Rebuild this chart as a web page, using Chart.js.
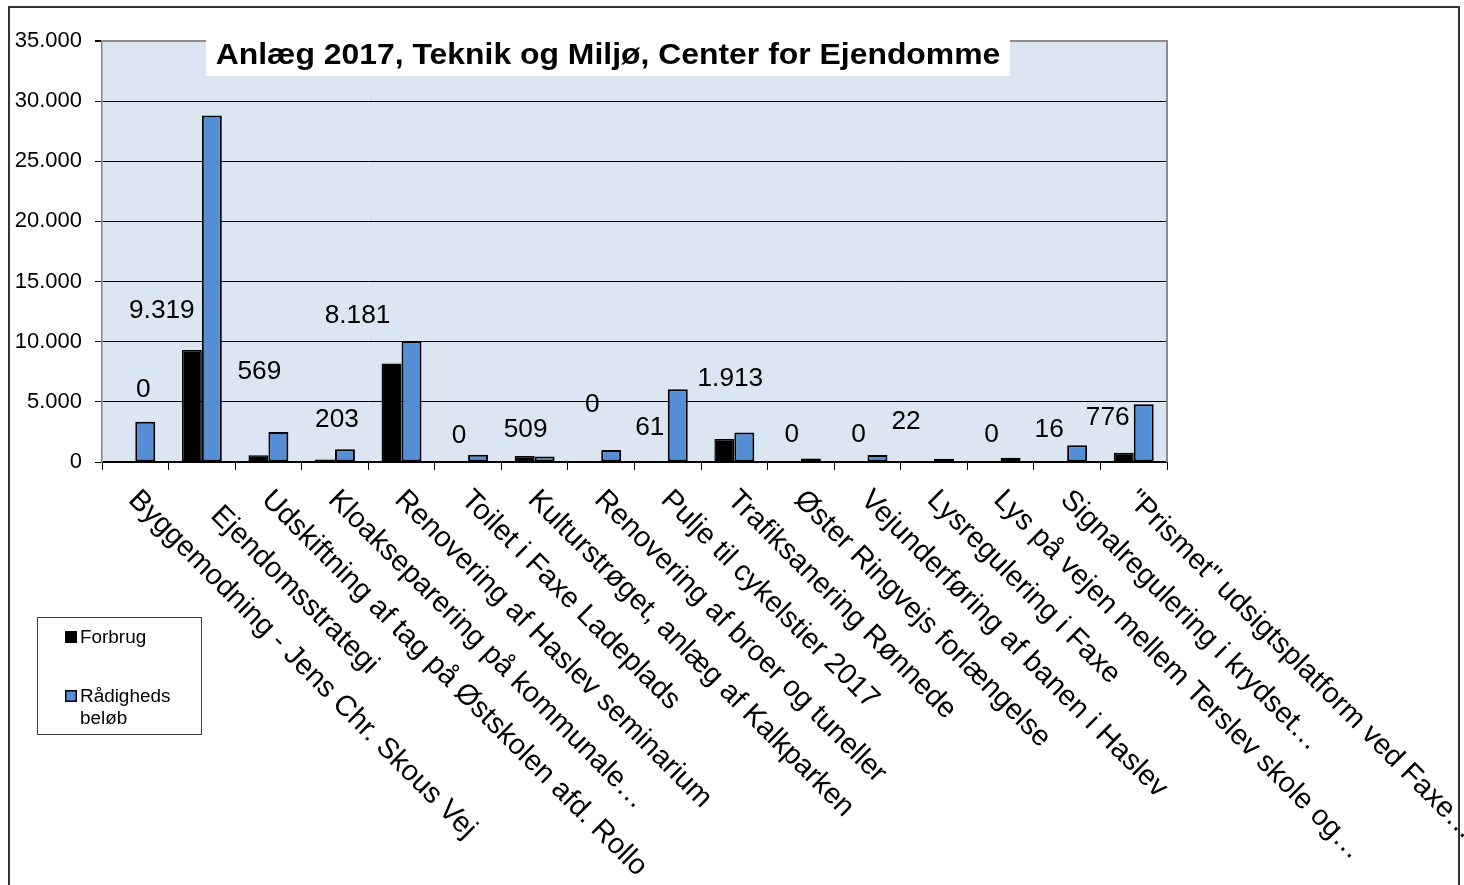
<!DOCTYPE html>
<html><head><meta charset="utf-8">
<script src="https://cdn.jsdelivr.net/npm/chart.js@4.4.1/dist/chart.umd.min.js"></script>
<style>html,body{margin:0;padding:0;background:#fff;overflow:hidden}canvas{display:block}</style>
</head><body>
<canvas id="c" width="1464" height="885"></canvas>
<script>
const titleText = 'Anlæg 2017, Teknik og Miljø, Center for Ejendomme';
const categories = [
  'Byggemodning - Jens Chr. Skous Vej',
  'Ejendomsstrategi',
  'Udskiftning af tag på Østskolen afd. Rollo',
  'Kloakseparering på kommunale…',
  'Renovering af Haslev seminarium',
  'Toilet i Faxe Ladeplads',
  'Kulturstrøget, anlæg af Kalkparken',
  'Renovering af broer og tuneller',
  'Pulje til cykelstier 2017',
  'Trafiksanering Rønnede',
  'Øster Ringvejs forlængelse',
  'Vejunderføring af banen i Haslev',
  'Lysregulering i Faxe',
  'Lys på vejen mellem Terslev skole og…',
  'Signalregulering i krydset…',
  '"Prismet" udsigtsplatform ved Faxe…'
];
const forbrug = [0, 9319, 569, 203, 8181, 0, 509, 0, 61, 1913, 0, 0, 22, 0, 16, 776];
const raadighed = [3350, 28800, 2500, 1050, 10050, 600, 450, 1000, 6050, 2450, 300, 580, 280, 350, 1400, 4800];
const yTicks = [0, 5000, 10000, 15000, 20000, 25000, 30000, 35000];
const seriesNames = ['Forbrug', 'Rådigheds beløb'];

// layout-only offsets (pixels) for the hand-placed data labels, relative to bar top
const labelOffsets = [[18,-72],[-30,-39],[1,-83],[12,-39],[-34,-47],[1,-26],[1,-26],[1,-57],[-8,-33],[6,-60],[1,-27],[1,-27],[-18,-40],[1,-27],[-8,-32],[-16,-35]];
// layout-only shift along the text direction for category labels
const xLabelShift = [0,22,0,0,0,0,0,0,0,0,0,0,0,0,0,0];

const FONT = '"Liberation Sans", Arial, sans-serif';
const SX = 1.05;
const fmt = v => String(v).replace(/\B(?=(\d{3})+(?!\d))/g, '.');

Chart.defaults.font.family = FONT;
Chart.defaults.color = '#000';

function sText(ctx, text, x, y, sx, rot) {
  ctx.save();
  ctx.translate(x, y);
  ctx.scale(sx, 1);
  if (rot) ctx.rotate(rot);
  ctx.fillText(text, 0, 0);
  ctx.restore();
}

const decor = {
  id: 'decor',
  beforeDraw(chart) {
    const ctx = chart.ctx, a = chart.chartArea;
    ctx.save();
    ctx.fillStyle = '#fff';
    ctx.fillRect(0, 0, chart.width, chart.height);
    ctx.fillStyle = '#DCE6F2';
    ctx.fillRect(a.left, a.top, a.right - a.left, a.bottom - a.top);
    ctx.restore();
  },
  afterDatasetsDraw(chart) {
    const ctx = chart.ctx;
    const meta = chart.getDatasetMeta(0);
    ctx.save();
    ctx.fillStyle = '#000';
    ctx.font = '25px ' + FONT;
    ctx.textAlign = 'center';
    ctx.textBaseline = 'middle';
    meta.data.forEach((el, i) => {
      const o = labelOffsets[i];
      sText(ctx, fmt(forbrug[i]), el.x + o[0], el.y + o[1], SX, 0);
    });
    ctx.restore();
  },
  afterDraw(chart) {
    const ctx = chart.ctx, a = chart.chartArea;
    const xs = chart.scales.x;
    ctx.save();
    // plot right border
    ctx.strokeStyle = '#8c8c8c';
    ctx.lineWidth = 2;
    ctx.beginPath();
    ctx.moveTo(a.right, a.top - 1);
    ctx.lineTo(a.right, a.bottom);
    ctx.stroke();
    // title box
    ctx.fillStyle = '#fff';
    ctx.fillRect(206, 39.5, 804, 36.5);
    ctx.fillStyle = '#000';
    ctx.font = 'bold 29px ' + FONT;
    ctx.textAlign = 'center';
    ctx.textBaseline = 'alphabetic';
    sText(ctx, titleText, 608, 63.5, 1.1, 0);
    // category labels
    ctx.font = '29px ' + FONT;
    ctx.textAlign = 'left';
    const ang = Math.PI / 4;
    categories.forEach((lab, i) => {
      const px = xs.getPixelForValue(i);
      const s = xLabelShift[i];
      sText(ctx, lab, px - 8 + s * Math.cos(ang), a.bottom + 39 + s * Math.sin(ang), 1, ang);
    });
    // legend
    ctx.fillStyle = '#fff';
    ctx.fillRect(37, 617, 164, 117);
    ctx.strokeStyle = '#404040';
    ctx.lineWidth = 1;
    ctx.strokeRect(37.5, 617.5, 164, 117);
    const ds = chart.data.datasets;
    ctx.fillStyle = ds[0].backgroundColor;
    ctx.fillRect(65, 631, 12, 12);
    ctx.fillStyle = ds[1].backgroundColor;
    ctx.fillRect(65, 690, 12, 12);
    ctx.strokeStyle = '#000';
    ctx.lineWidth = 1.5;
    ctx.strokeRect(65.75, 690.75, 10.5, 10.5);
    ctx.fillStyle = '#000';
    ctx.font = '18px ' + FONT;
    ctx.textAlign = 'left';
    sText(ctx, seriesNames[0], 80, 643, SX, 0);
    const parts = seriesNames[1].split(' ');
    sText(ctx, parts[0], 80, 702, SX, 0);
    sText(ctx, parts[1], 80, 724, SX, 0);
    // outer border
    ctx.strokeStyle = '#333';
    ctx.lineWidth = 2;
    ctx.strokeRect(9, 7, 1450, 950);
    ctx.restore();
  }
};

new Chart(document.getElementById('c'), {
  type: 'bar',
  data: {
    labels: categories,
    datasets: [
      { label: seriesNames[0], data: forbrug, backgroundColor: '#000000', borderColor: '#000', borderWidth: 1.5, borderSkipped: false, categoryPercentage: 0.6, barPercentage: 1 },
      { label: seriesNames[1], data: raadighed, backgroundColor: '#558ED5', borderColor: '#000', borderWidth: 2, borderSkipped: false, categoryPercentage: 0.6, barPercentage: 1 }
    ]
  },
  options: {
    responsive: false,
    animation: false,
    devicePixelRatio: 1,
    layout: { padding: { left: 0, top: 41, right: 297, bottom: 0 } },
    plugins: { legend: { display: false }, title: { display: false }, tooltip: { enabled: false } },
    scales: {
      x: {
        offset: true,
        grid: { display: true, drawOnChartArea: false, drawTicks: true, tickLength: 8, color: '#000', lineWidth: 1, offset: true },
        border: { color: '#000', width: 1.5 },
        ticks: { display: false },
        afterFit(s) { s.height = 423; }
      },
      y: {
        min: 0, max: 35000,
        afterBuildTicks(s) { s.ticks = yTicks.map(v => ({ value: v })); },
        ticks: { callback: v => fmt(v), font: { size: 22 }, color: '#000', padding: 13 },
        grid: {
          color: c => (c.tick && c.tick.value === 35000) ? '#8c8c8c' : '#000',
          lineWidth: c => (c.tick && c.tick.value === 35000) ? 2 : 1,
          tickColor: '#000', tickLength: 7
        },
        border: { color: '#808080', width: 1.5 },
        afterFit(s) { s.width = 102; }
      }
    }
  },
  plugins: [decor]
});
</script>
</body></html>
